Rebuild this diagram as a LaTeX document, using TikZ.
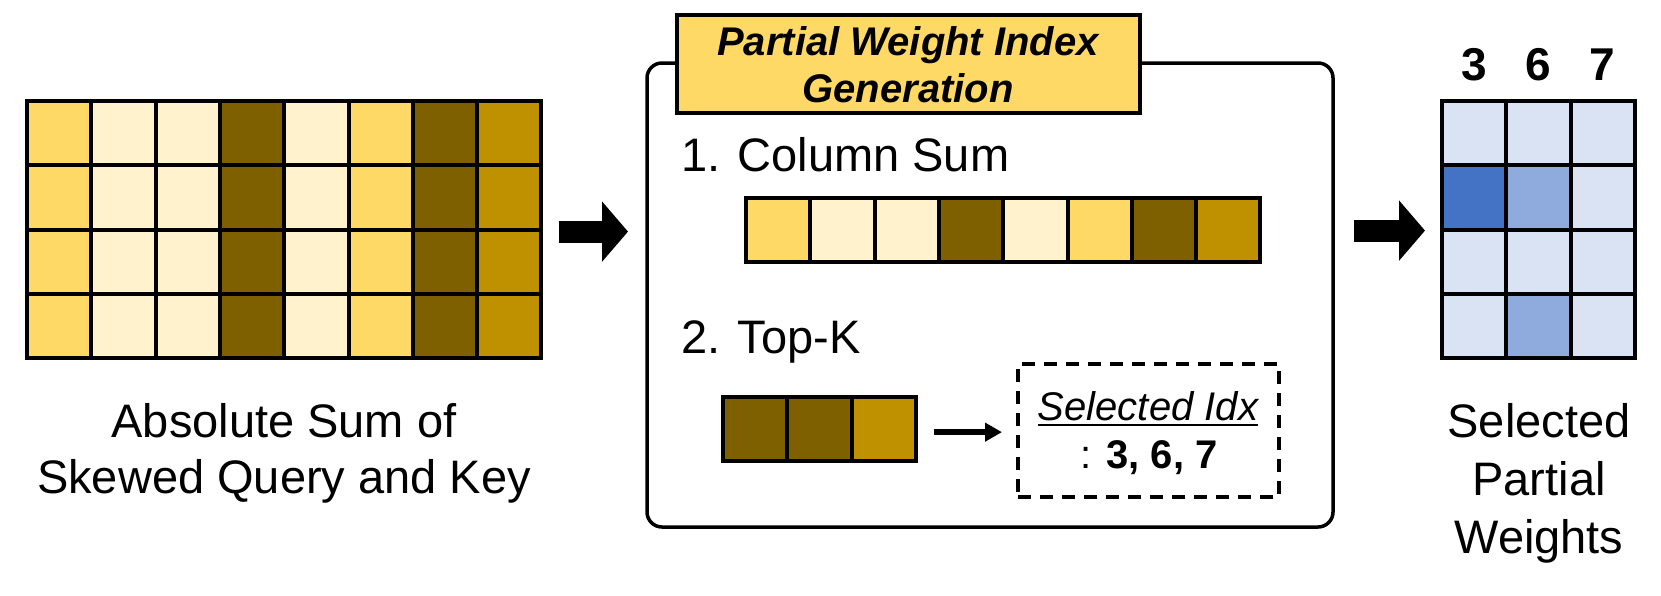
\documentclass[tikz,border=0pt]{standalone}
\usepackage{fontspec}
\setmainfont{Liberation Sans}
\usetikzlibrary{arrows.meta,fit}
\definecolor{yL}{HTML}{FFF2CC}
\definecolor{yM}{HTML}{FFD966}
\definecolor{yD}{HTML}{7F6000}
\definecolor{yG}{HTML}{BF9000}
\definecolor{bL}{HTML}{DAE3F3}
\definecolor{bM}{HTML}{8FAADC}
\definecolor{bD}{HTML}{4472C4}
\tikzset{
  cell/.style={draw=black, line width=4pt, minimum size=64.3pt, inner sep=0pt, outer sep=0pt},
  body/.style={font=\fontsize{47}{56}\selectfont, inner sep=0pt, outer sep=0pt, anchor=base},
  titletext/.style={font=\fontsize{40}{47}\selectfont\bfseries\itshape, inner sep=0pt, anchor=base},
  idxtext/.style={font=\fontsize{40}{47}\selectfont, inner sep=0pt, anchor=base},
  digit/.style={font=\fontsize{46}{55}\selectfont\bfseries, inner sep=0pt, anchor=base},
  bigarrow/.style={line width=22pt, -{Triangle[length=26pt,width=59pt]}},
  smallarrow/.style={line width=6pt, -{Triangle[length=17pt,width=18pt]}},
  gridbox/.style={inner sep=0pt, outer sep=0pt}
}
\begin{document}
\begin{tikzpicture}[x=1pt,y=-1pt]
\useasboundingbox (0,0) rectangle (1661,595);
% ---------- left grid ----------
\foreach \r in {1,...,4}{
  \foreach \c/\col in {1/yM,2/yL,3/yL,4/yD,5/yL,6/yM,7/yD,8/yG}{
    \node[cell, fill=\col] (L-\r-\c) at ({27+64.3*(\c-0.5)}, {101+64.3*(\r-0.5)}) {};
  }
}
\node[gridbox, fit=(L-1-1)(L-4-8)] (lgrid) {};
\node[body] (ltxt1) at (284,437) {Absolute Sum of};
\node[body] (ltxt2) at (284,493) {Skewed Query and Key};
% ---------- middle box ----------
\node[draw, line width=3.5pt, rounded corners=15pt, minimum width=686pt, minimum height=464pt, inner sep=0pt, outer sep=0pt] (box) at (990,295) {};
\node[draw, fill=yM, line width=4pt, minimum width=463pt, minimum height=98pt, inner sep=0pt, outer sep=0pt] (title) at (908.5,64) {};
\node[titletext] (title1) at (908,55) {Partial Weight Index};
\node[titletext] (title2) at (908,102) {Generation};
\node[body, anchor=base west] (step1) at (681,171) {1. Column Sum};
\foreach \c/\col in {1/yM,2/yL,3/yL,4/yD,5/yL,6/yM,7/yD,8/yG}{
  \node[cell, fill=\col] (C-\c) at ({746+64.3*(\c-0.5)}, {198+32.15}) {};
}
\node[body, anchor=base west] (step2) at (681,353) {2. Top-K};
\foreach \c/\col in {1/yD,2/yD,3/yG}{
  \node[cell, fill=\col] (T-\c) at ({723+64.3*(\c-0.5)}, {397+32.15}) {};
}
\node[gridbox, fit=(T-1)(T-3)] (topk) {};
\node[draw, line width=3.5pt, dash pattern=on 13pt off 9pt, minimum width=261pt, minimum height=133pt, inner sep=0pt, outer sep=0pt] (selbox) at (1148.5,430.5) {};
\node[idxtext, font=\fontsize{40}{47}\selectfont\itshape] (selidx) at (1148,420) {Selected Idx};
\draw[line width=2pt] ([yshift=-5pt]selidx.base west) -- ([yshift=-5pt]selidx.base east);
\node[idxtext] (idxlist) at (1149,468) {: \textbf{3, 6, 7}};
\draw[smallarrow, shorten <=18pt, shorten >=16pt] ([yshift=-3pt]topk.east) -- ([yshift=-3pt]topk.east -| selbox.west);
% ---------- right grid ----------
\foreach \r/\ca/\cb/\cc in {1/bL/bL/bL,2/bD/bM/bL,3/bL/bL/bL,4/bL/bM/bL}{
  \foreach \c/\col in {1/\ca,2/\cb,3/\cc}{
    \node[cell, fill=\col] (R-\r-\c) at ({1442+64.3*(\c-0.5)}, {101+64.3*(\r-0.5)}) {};
  }
}
\node[gridbox, fit=(R-1-1)(R-4-3)] (rgrid) {};
\node[digit] (d3) at (R-1-1 |- 0,80) {3};
\node[digit] (d6) at (R-1-2 |- 0,80) {6};
\node[digit] (d7) at (R-1-3 |- 0,80) {7};
\node[body] (rtxt1) at (1539,437) {Selected};
\node[body] (rtxt2) at (1539,495) {Partial};
\node[body] (rtxt3) at (1539,553) {Weights};
% ---------- big arrows ----------
\draw[bigarrow, shorten <=18pt, shorten >=19pt] ([yshift=-2pt]lgrid.east) -- ([yshift=-2pt]lgrid.east -| box.west);
\draw[bigarrow, shorten <=21pt, shorten >=17pt] ([yshift=-1pt]box.east |- rgrid.east) -- ([yshift=-1pt]rgrid.west);
\end{tikzpicture}
\end{document}
